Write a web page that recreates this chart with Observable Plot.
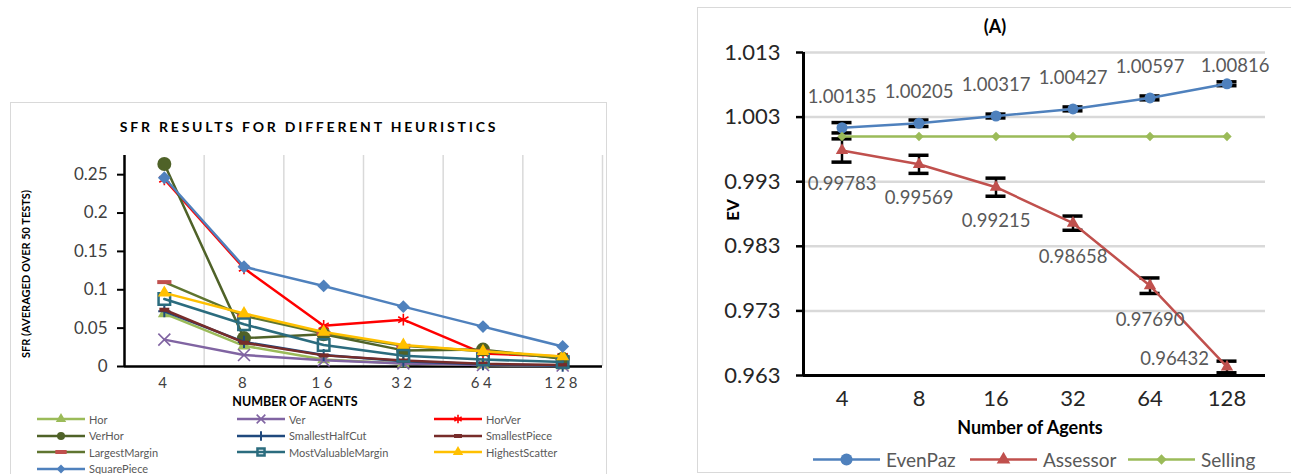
<!DOCTYPE html>
<html><head><meta charset="utf-8">
<script src="https://cdn.jsdelivr.net/npm/d3@7"></script>
<script src="https://cdn.jsdelivr.net/npm/@observablehq/plot@0.6"></script>
<style>
body{margin:0;background:#fff;font-family:Lato,"Open Sans",sans-serif;}
#root{position:relative;width:1291px;height:474px;overflow:hidden;background:#fff;}
.panel{position:absolute;border:1.5px solid #d9d9d9;box-sizing:border-box;}
.t{position:absolute;white-space:nowrap;transform:translate(-50%,-50%);}
.chart{position:absolute;}
.leg{position:absolute;display:flex;align-items:center;white-space:nowrap;transform:translateY(-50%);color:#595959;}
.leg svg{display:block;overflow:visible;}
#left g[aria-label="x-axis tick label"] text{letter-spacing:3.5px;}
</style></head><body><div id="root"></div>
<script>
// ---------- data: left chart ----------
const agents = ["4","8","16","32","64","128"];
const sfrSeries = ["Hor","Ver","HorVer","VerHor","SmallestHalfCut","SmallestPiece","LargestMargin","MostValuableMargin","HighestScatter","SquarePiece"];
const sfrHor = [0.069, 0.027, 0.009, 0.004, 0.002, 0.001];
const sfrVer = [0.035, 0.015, 0.008, 0.004, 0.002, 0.0012];
const sfrHorVer = [0.244, 0.128, 0.053, 0.061, 0.017, 0.013];
const sfrVerHor = [0.264, 0.037, 0.042, 0.021, 0.022, 0.010];
const sfrSmallestHalfCut = [0.072, 0.032, 0.015, 0.007, 0.003, 0.001];
const sfrSmallestPiece = [0.074, 0.031, 0.0145, 0.0078, 0.0035, 0.002];
const sfrLargestMargin = [0.110, 0.066, 0.043, 0.027, 0.020, 0.011];
const sfrMostValuableMargin = [0.088, 0.055, 0.028, 0.014, 0.009, 0.006];
const sfrHighestScatter = [0.096, 0.069, 0.045, 0.028, 0.020, 0.013];
const sfrSquarePiece = [0.246, 0.130, 0.105, 0.078, 0.052, 0.026];
const sfrTicks = [0, 0.05, 0.1, 0.15, 0.2, 0.25];
const sfrTitle = "SFR RESULTS FOR DIFFERENT HEURISTICS";
const sfrYLabel = "SFR (AVERAGED OVER 50 TESTS)";
const sfrXLabel = "NUMBER OF AGENTS";

// ---------- data: right chart ----------
const evSeries = ["EvenPaz","Assessor","Selling"];
const evEvenPaz = [1.00135, 1.00205, 1.00317, 1.00427, 1.00597, 1.00816];
const evEvenPazErr = [0.0008, 0.0005, 0.0003, 0.0003, 0.0003, 0.0003];
const evAssessor = [0.99783, 0.99569, 0.99215, 0.98658, 0.97690, 0.96432];
const evAssessorErr = [0.0018, 0.0014, 0.0014, 0.0011, 0.0012, 0.0009];
const evSelling = [1, 1, 1, 1, 1, 1];
const evTicks = [0.963, 0.973, 0.983, 0.993, 1.003, 1.013];
const evTitle = "(A)";
const evYLabel = "EV";
const evXLabel = "Number of Agents";

// ---------- styles ----------
const dashSym = {draw(ctx, size){ const w = Math.sqrt(size) * 0.8; ctx.rect(-w, -2, 2 * w, 4); }};
const sfrStyle = [
  {line:"#9BBB59", sym:d3.symbolTriangle, r:4.8, fill:"#9BBB59", stroke:"none", sw:0},
  {line:"#8064A2", sym:d3.symbolTimes, r:5.5, fill:"none", stroke:"#8064A2", sw:1.6},
  {line:"#FF0000", sym:d3.symbolAsterisk, r:5.6, fill:"none", stroke:"#FF0000", sw:1.6},
  {line:"#4F6228", sym:d3.symbolCircle, r:7, fill:"#4F6228", stroke:"none", sw:0},
  {line:"#1F497D", sym:d3.symbolPlus, r:4, fill:"none", stroke:"#1F497D", sw:2},
  {line:"#772C2A", sym:dashSym, r:3.5, fill:"#772C2A", stroke:"none", sw:0},
  {line:"#5F7530", sym:dashSym, r:5, fill:"#C0504D", stroke:"none", sw:0},
  {line:"#2B6C7E", sym:d3.symbolSquare, r:6.5, fill:"none", stroke:"#2B6C7E", sw:2.5},
  {line:"#FFC000", sym:d3.symbolTriangle, r:4.8, fill:"#FFC000", stroke:"none", sw:0},
  {line:"#4F81BD", sym:d3.symbolDiamond2, r:5.8, fill:"#4F81BD", stroke:"none", sw:0}
];
const evStyle = [
  {line:"#4F81BD", sym:d3.symbolCircle, r:5.5, fill:"#4F81BD"},
  {line:"#C0504D", sym:d3.symbolTriangle, r:4.6, fill:"#C0504D"},
  {line:"#9BBB59", sym:d3.symbolDiamond2, r:4.2, fill:"#9BBB59"}
];

const root = document.getElementById("root");
function addDiv(cls, css, html){ const d = document.createElement("div"); d.className = cls; Object.assign(d.style, css); if (html != null) d.innerHTML = html; root.appendChild(d); return d; }

// ---------- panels ----------
addDiv("panel", {left:"10px", top:"102px", width:"597px", height:"400px"});
addDiv("panel", {left:"697px", top:"7px", width:"600px", height:"466px"});

// ---------- left chart ----------
const sfrValues = [sfrHor, sfrVer, sfrHorVer, sfrVerHor, sfrSmallestHalfCut, sfrSmallestPiece, sfrLargestMargin, sfrMostValuableMargin, sfrHighestScatter, sfrSquarePiece];
const idx = agents.map((_, i) => i);
const leftMarks = [
  Plot.ruleX(idx.map(i => i + 0.5), {stroke:"#d9d9d9", strokeWidth:1.5}),
  Plot.ruleX([-0.5], {stroke:"#000", strokeWidth:2.5}),
  Plot.ruleY([0], {stroke:"#000", strokeWidth:2.5}),
  Plot.axisY({ticks:sfrTicks, tickSize:7, tickPadding:10, fontSize:17, tickFormat:d => String(+d.toFixed(2)), label:null, stroke:"#000", strokeWidth:2, fill:"#404040"}),
  Plot.axisX({ticks:idx, tickSize:0, tickPadding:11, fontSize:15, tickFormat:i => agents[i], label:null, fill:"#404040"})
];
sfrSeries.forEach((s, k) => {
  const rows = idx.map(i => ({series:s, i, v:sfrValues[k][i]}));
  const st = sfrStyle[k];
  leftMarks.push(Plot.line(rows, {x:"i", y:"v", stroke:st.line, strokeWidth:2.5}));
  leftMarks.push(Plot.dot(rows, {x:"i", y:"v", symbol:st.sym, r:st.r, fill:st.fill, stroke:st.stroke, strokeWidth:st.sw}));
});
const left = Plot.plot({
  width:597, height:310, marginLeft:114, marginRight:5, marginTop:53, marginBottom:46,
  x:{type:"linear", domain:[-0.5, 5.5]},
  y:{type:"linear", domain:[0, 0.275]},
  style:{fontFamily:"Lato, 'Open Sans', sans-serif", background:"transparent", overflow:"visible"},
  marks:leftMarks
});
const lw = addDiv("chart", {left:"10px", top:"102px"}); lw.id = "left"; lw.appendChild(left);

addDiv("t", {left:"309px", top:"126px", font:"bold 14px Lato, sans-serif", letterSpacing:"2.8px", color:"#000"}, sfrTitle);
addDiv("t", {left:"295px", top:"401px", font:"bold 12.5px Lato, sans-serif", color:"#000"}, sfrXLabel);
addDiv("t", {left:"25px", top:"274px", font:"bold 11px Lato, sans-serif", color:"#000", transform:"translate(-50%,-50%) rotate(-90deg)"}, sfrYLabel);

function swatch(st, w, lineW, markR){
  const svg = d3.create("svg").attr("width", w).attr("height", 14);
  svg.append("line").attr("x1", 0).attr("x2", w).attr("y1", 7).attr("y2", 7).attr("stroke", st.line).attr("stroke-width", lineW);
  const size = Math.PI * markR * markR;
  svg.append("path").attr("transform", `translate(${w/2},7)`).attr("d", d3.symbol(st.sym, size)())
    .attr("fill", st.fill).attr("stroke", st.stroke || "none").attr("stroke-width", st.sw || 0);
  return svg.node();
}
const sfrLegCols = [37, 237, 434];
const sfrLegRows = [419, 435.5, 452, 468.5];
sfrSeries.forEach((s, k) => {
  const d = addDiv("leg", {left:sfrLegCols[k % 3] + "px", top:sfrLegRows[Math.floor(k / 3)] + "px", font:"11px Lato, sans-serif"});
  const st = sfrStyle[k];
  d.appendChild(swatch(st, 48, 2.5, Math.min(st.r, 5) * 0.8));
  const sp = document.createElement("span"); sp.textContent = s; sp.style.marginLeft = "4px"; d.appendChild(sp);
});

// ---------- right chart ----------
const evValues = [evEvenPaz, evAssessor, evSelling];
const evErrs = [evEvenPazErr, evAssessorErr, null];
const capW = 0.13;
const fmt5 = d3.format(".5f");
const rightMarks = [
  Plot.ruleY(evTicks.slice(1), {stroke:"#d9d9d9", strokeWidth:2.5}),
  Plot.ruleX([-0.5], {y1:evTicks[0], y2:evTicks[evTicks.length - 1], stroke:"#000", strokeWidth:3}),
  Plot.ruleY([evTicks[0]], {stroke:"#000", strokeWidth:3}),
  Plot.axisY({ticks:evTicks, tickSize:7, tickPadding:16, fontSize:22, tickFormat:d3.format(".3f"), label:null, stroke:"#000", strokeWidth:2.5, fill:"#262626"}),
  Plot.axisX({ticks:idx, tickSize:0, tickPadding:15, fontSize:22, tickFormat:i => agents[i], label:null, fill:"#262626"})
];
evSeries.forEach((s, k) => {
  const rows = idx.map(i => ({series:s, i, v:evValues[k][i], e:evErrs[k] ? evErrs[k][i] : 0}));
  const st = evStyle[k];
  if (evErrs[k]) {
    rightMarks.push(Plot.ruleX(rows, {x:"i", y1:d => d.v - d.e, y2:d => d.v + d.e, stroke:"#000", strokeWidth:2.5}));
    rightMarks.push(Plot.ruleY(rows, {y:d => d.v + d.e, x1:d => d.i - capW, x2:d => d.i + capW, stroke:"#000", strokeWidth:3.5}));
    rightMarks.push(Plot.ruleY(rows, {y:d => d.v - d.e, x1:d => d.i - capW, x2:d => d.i + capW, stroke:"#000", strokeWidth:3.5}));
  }
  rightMarks.push(Plot.line(rows, {x:"i", y:"v", stroke:st.line, strokeWidth:2.5}));
  rightMarks.push(Plot.dot(rows, {x:"i", y:"v", symbol:st.sym, r:st.r, fill:st.fill, stroke:"none"}));
});
const evRowsE = idx.map(i => ({i, v:evEvenPaz[i]}));
const evRowsA = idx.map(i => ({i, v:evAssessor[i]}));
const lbl = {x:"i", y:"v", text:d => fmt5(d.v), fontSize:18.5, fill:"#595959"};
rightMarks.push(Plot.text(evRowsE.slice(0, 5), {...lbl, dy:-31}));
rightMarks.push(Plot.text(evRowsE.slice(5), {...lbl, dy:-18, dx:8}));
rightMarks.push(Plot.text(evRowsA.slice(0, 5), {...lbl, dy:34}));
rightMarks.push(Plot.text(evRowsA.slice(5), {...lbl, dy:-8, dx:-18, textAnchor:"end"}));

const right = Plot.plot({
  width:593, height:465, marginLeft:106, marginRight:25, marginTop:45, marginBottom:97,
  x:{type:"linear", domain:[-0.5, 5.5]},
  y:{type:"linear", domain:[evTicks[0], evTicks[evTicks.length - 1]]},
  style:{fontFamily:"Lato, 'Open Sans', sans-serif", background:"transparent", overflow:"visible"},
  marks:rightMarks
});
const rw = addDiv("chart", {left:"697px", top:"7px"}); rw.appendChild(right);

addDiv("t", {left:"995px", top:"26px", font:"bold 18px Lato, sans-serif", color:"#000"}, evTitle);
addDiv("t", {left:"1030px", top:"427px", font:"bold 18px Lato, sans-serif", color:"#000"}, evXLabel);
addDiv("t", {left:"732px", top:"210px", font:"bold 17px Lato, sans-serif", color:"#000", transform:"translate(-50%,-50%) rotate(-90deg)"}, evYLabel);

const evLegX = [813, 970, 1128];
evSeries.forEach((s, k) => {
  const d = addDiv("leg", {left:evLegX[k] + "px", top:"459px", font:"19px Lato, sans-serif"});
  d.appendChild(swatch(evStyle[k], 67, 2.5, evStyle[k].r * 1.1));
  const sp = document.createElement("span"); sp.textContent = s; sp.style.marginLeft = "6px"; d.appendChild(sp);
});
</script>
</body></html>
